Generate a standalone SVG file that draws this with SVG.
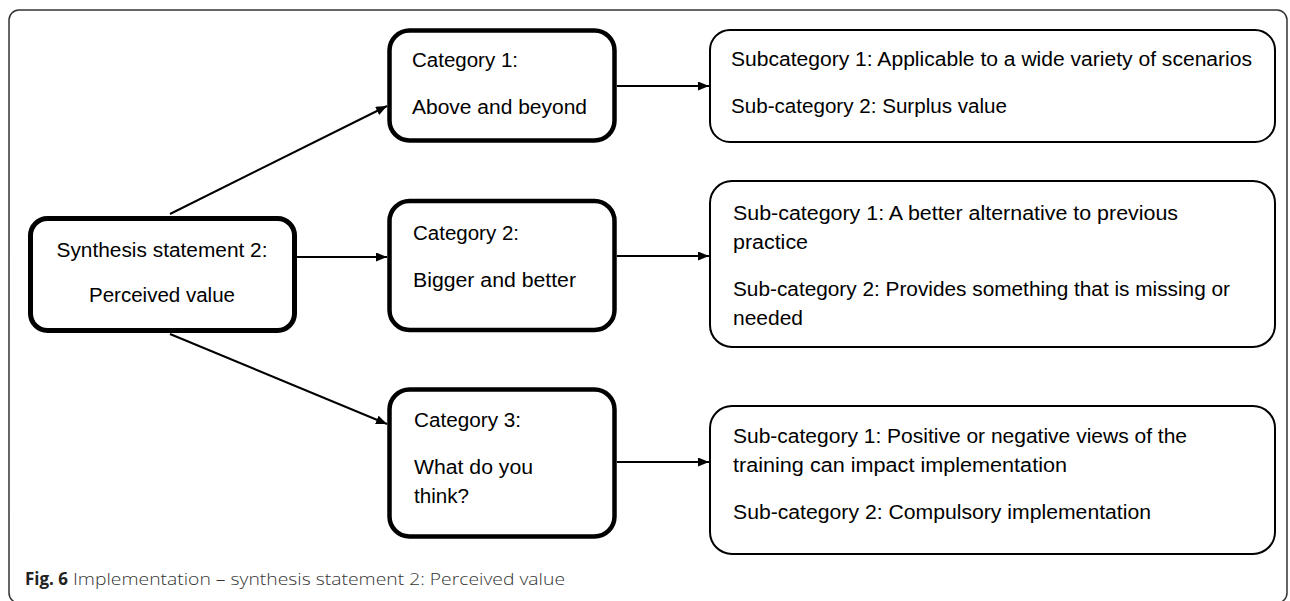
<svg xmlns="http://www.w3.org/2000/svg" width="1290" height="601" viewBox="0 0 1290 601">
<style>
.frame{fill:none;stroke:#333;stroke-width:1.5}
.thick{fill:#fff;stroke:#000;stroke-width:4.5}
.src{fill:#fff;stroke:#000;stroke-width:5}
.thin{fill:#fff;stroke:#000;stroke-width:2}
.t{font-family:"Liberation Sans",Arial,sans-serif;font-size:19.5px;fill:#000}
.c{text-anchor:middle}
.edge{stroke:#000;stroke-width:2;fill:none;marker-end:url(#ah)}
.capb{font-family:"Open Sans","Liberation Sans",sans-serif;font-size:17px;font-weight:bold;fill:#222}
.cap{font-family:"Open Sans","Liberation Sans",sans-serif;font-size:17px;font-weight:300;fill:#333}
</style>
<defs>
<marker id="ah" markerUnits="userSpaceOnUse" markerWidth="11" markerHeight="9" refX="11" refY="4.5" orient="auto">
<path d="M0,0 L11,4.5 L0,9 z" fill="#000"/>
</marker>
</defs>
<rect width="1290" height="601" fill="#fff"/>
<rect class="frame" x="9" y="10" width="1278" height="593" rx="10"/>

<g id="connectors">
<line class="edge" x1="170" y1="214" x2="387" y2="106"/>
<line class="edge" x1="297" y1="257" x2="387" y2="257"/>
<line class="edge" x1="170" y1="334" x2="387" y2="424"/>
<line class="edge" x1="617" y1="86" x2="709" y2="86"/>
<line class="edge" x1="617" y1="256" x2="709" y2="256"/>
<line class="edge" x1="617" y1="462" x2="709" y2="462"/>
</g>

<g id="source">
<rect class="src" x="30.5" y="218.5" width="264" height="112" rx="17"/>
<text class="t c" x="162" y="257" textLength="211" lengthAdjust="spacingAndGlyphs">Synthesis statement 2:</text>
<text class="t c" x="162" y="302" textLength="146" lengthAdjust="spacingAndGlyphs">Perceived value</text>
</g>

<g id="cat1">
<rect class="thick" x="389.5" y="30.5" width="225" height="110" rx="20"/>
<text class="t" x="412" y="67" textLength="106" lengthAdjust="spacingAndGlyphs">Category 1:</text>
<text class="t" x="412" y="114" textLength="175" lengthAdjust="spacingAndGlyphs">Above and beyond</text>
</g>

<g id="cat2">
<rect class="thick" x="389.5" y="201" width="225" height="129" rx="20"/>
<text class="t" x="413" y="240" textLength="106" lengthAdjust="spacingAndGlyphs">Category 2:</text>
<text class="t" x="413" y="287" textLength="163" lengthAdjust="spacingAndGlyphs">Bigger and better</text>
</g>

<g id="cat3">
<rect class="thick" x="389.5" y="389.5" width="225" height="147" rx="20"/>
<text class="t" x="414" y="427" textLength="107" lengthAdjust="spacingAndGlyphs">Category 3:</text>
<text class="t" x="414" y="474" textLength="119" lengthAdjust="spacingAndGlyphs">What do you</text>
<text class="t" x="414" y="503" textLength="55" lengthAdjust="spacingAndGlyphs">think?</text>
</g>

<g id="sub1">
<rect class="thin" x="710" y="30" width="565" height="112" rx="20"/>
<text class="t" x="731" y="66" textLength="521" lengthAdjust="spacingAndGlyphs">Subcategory 1: Applicable to a wide variety of scenarios</text>
<text class="t" x="731" y="113" textLength="276" lengthAdjust="spacingAndGlyphs">Sub-category 2: Surplus value</text>
</g>

<g id="sub2">
<rect class="thin" x="710" y="181" width="565" height="166" rx="22"/>
<text class="t" x="733" y="220" textLength="445" lengthAdjust="spacingAndGlyphs">Sub-category 1: A better alternative to previous</text>
<text class="t" x="733" y="249" textLength="75" lengthAdjust="spacingAndGlyphs">practice</text>
<text class="t" x="733" y="296" textLength="497" lengthAdjust="spacingAndGlyphs">Sub-category 2: Provides something that is missing or</text>
<text class="t" x="733" y="325" textLength="70" lengthAdjust="spacingAndGlyphs">needed</text>
</g>

<g id="sub3">
<rect class="thin" x="710" y="406" width="565" height="148" rx="22"/>
<text class="t" x="733" y="443" textLength="454" lengthAdjust="spacingAndGlyphs">Sub-category 1: Positive or negative views of the</text>
<text class="t" x="733" y="472" textLength="334" lengthAdjust="spacingAndGlyphs">training can impact implementation</text>
<text class="t" x="733" y="519" textLength="418" lengthAdjust="spacingAndGlyphs">Sub-category 2: Compulsory implementation</text>
</g>

<g id="caption">
<text class="capb" x="25" y="585" textLength="43" lengthAdjust="spacingAndGlyphs">Fig. 6</text>
<text class="cap" x="73" y="585" textLength="492" lengthAdjust="spacingAndGlyphs">Implementation – synthesis statement 2: Perceived value</text>
</g>
</svg>
